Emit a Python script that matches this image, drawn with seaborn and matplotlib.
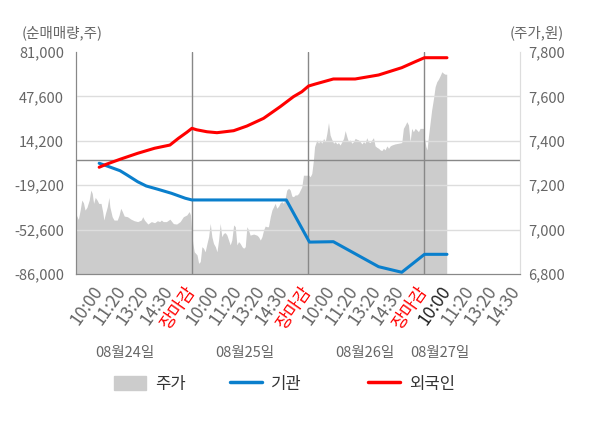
import seaborn as sns
import numpy as np
import pandas as pd
import matplotlib
matplotlib.use('Agg')
import matplotlib.pyplot as plt
from matplotlib.patches import Patch
from matplotlib.lines import Line2D
from matplotlib.transforms import blended_transform_factory

sns.set_style('white')
plt.rcParams['font.family'] = ['Noto Sans CJK KR', 'DejaVu Sans']

# x axis: 5 slots per trading day, day boundaries at 5, 10, 15
slot_labels = ['10:00', '11:20', '13:20', '14:30', '장마감']
day_labels = ['08월24일', '08월25일', '08월26일', '08월27일']
day_label_pos = [2.1, 7.3, 12.45, 15.7]

# 주가 (price, right axis) read per day
price_t_d1 = [0.0, 0.1, 0.18, 0.25, 0.32, 0.39, 0.47, 0.57, 0.64, 0.70, 0.76, 0.83, 0.91, 0.98,
              1.08, 1.15, 1.20, 1.27, 1.35, 1.42, 1.46, 1.56, 1.64, 1.78, 1.86, 1.93, 2.00, 2.08,
              2.22, 2.37, 2.51, 2.66, 2.81, 2.88, 2.95, 3.10, 3.25, 3.39, 3.51, 3.61, 3.68, 3.76,
              3.90, 4.05, 4.20, 4.34, 4.49, 4.63, 4.78, 4.88, 4.94]
price_v_d1 = [7069, 7046, 7088, 7133, 7121, 7088, 7100, 7133, 7178, 7163, 7118, 7145, 7133, 7118,
              7118, 7081, 7043, 7073, 7103, 7145, 7103, 7058, 7043, 7043, 7066, 7096, 7081, 7061,
              7058, 7047, 7040, 7036, 7043, 7058, 7043, 7025, 7036, 7031, 7040, 7036, 7043, 7036,
              7036, 7047, 7027, 7025, 7036, 7058, 7066, 7081, 7066]
price_t_d2 = [5.0, 5.04, 5.1, 5.22, 5.29, 5.36, 5.43, 5.5, 5.57, 5.65, 5.72, 5.79, 5.86, 5.93,
              6.01, 6.08, 6.15, 6.22, 6.29, 6.36, 6.44, 6.51, 6.58, 6.65, 6.72, 6.8, 6.87, 6.94,
              7.01, 7.08, 7.16, 7.23, 7.3, 7.37, 7.44, 7.51, 7.66, 7.8, 7.87, 7.95, 8.02, 8.09,
              8.16, 8.23, 8.3, 8.38, 8.45, 8.52, 8.59, 8.66, 8.74, 8.81, 8.88, 8.95, 9.02, 9.09,
              9.17, 9.24, 9.31, 9.38, 9.45, 9.53, 9.6, 9.67, 9.74, 9.81, 9.89, 9.96]
price_v_d2 = [6976, 6938, 6900, 6886, 6848, 6856, 6923, 6916, 6900, 6938, 6968, 7028, 6968, 6938,
              6923, 6900, 6953, 7028, 6968, 6983, 6986, 6975, 6953, 6931, 6953, 7021, 7013, 6931,
              6946, 6938, 6923, 6916, 6923, 7013, 6998, 6975, 6980, 6975, 6968, 6953, 6968, 6998,
              7016, 7013, 7013, 7058, 7088, 7103, 7118, 7096, 7106, 7121, 7126, 7118, 7141, 7178,
              7186, 7178, 7151, 7148, 7156, 7156, 7163, 7178, 7193, 7245, 7245, 7245]
price_t_d3 = [10.03, 10.1, 10.17, 10.24, 10.29, 10.34, 10.39, 10.46, 10.53, 10.6, 10.68, 10.75,
              10.82, 10.89, 10.96, 11.03, 11.11, 11.18, 11.25, 11.32, 11.39, 11.47, 11.54, 11.61,
              11.68, 11.75, 11.82, 11.9, 11.97, 12.04, 12.11, 12.18, 12.26, 12.33, 12.4, 12.47,
              12.54, 12.61, 12.69, 12.76, 12.83, 12.9, 12.97, 13.05, 13.12, 13.19, 13.26, 13.33,
              13.41, 13.48, 13.55, 13.62, 13.76, 13.91, 14.05, 14.12, 14.2, 14.27, 14.34, 14.41,
              14.48, 14.55, 14.63, 14.7, 14.77, 14.84, 14.99]
price_v_d3 = [7246, 7238, 7253, 7313, 7374, 7389, 7404, 7389, 7404, 7389, 7411, 7396,
              7434, 7482, 7426, 7407, 7389, 7396, 7386, 7392, 7381, 7396, 7411, 7446,
              7419, 7396, 7404, 7389, 7396, 7411, 7407, 7404, 7396, 7386, 7396, 7389,
              7414, 7396, 7392, 7404, 7414, 7377, 7371, 7366, 7359, 7356, 7366, 7359,
              7377, 7366, 7377, 7381, 7386, 7389, 7392, 7456, 7471, 7486, 7471, 7396,
              7456, 7441, 7456, 7449, 7441, 7456, 7456]
price_t_d4 = [15.03, 15.09, 15.14, 15.2, 15.27, 15.34, 15.42, 15.49, 15.56, 15.63, 15.7, 15.78,
              15.85, 15.92, 15.99]
price_v_d4 = [7411, 7374, 7359, 7419, 7479, 7539, 7591, 7644, 7666, 7677, 7692, 7711,
              7704, 7700, 7700]

# 기관 (institutions, left axis)
inst_t = [1.0, 1.3, 1.9, 2.2, 2.66, 3.03, 3.54, 4.12, 4.71, 5.0, 9.07, 10.07, 11.1,
          13.05, 14.05, 15.03, 16.0]
inst_v = [-2700, -4500, -8300, -11500, -16600, -19800, -22300, -25300, -29000, -30300,
          -30300, -62000, -61700, -80500, -84700, -71200, -71200]

# 외국인 (foreigners, left axis)
frgn_t = [1.0, 1.3, 1.9, 2.66, 3.39, 4.05, 4.42, 4.78, 5.0, 5.2, 5.65, 6.08, 6.8, 7.37,
          8.09, 8.81, 9.38, 9.74, 10.03, 10.32, 11.1, 12.04, 13.05, 14.05, 14.63, 15.03, 16.0]
frgn_v = [-5700, -3500, 300, 4800, 8600, 11000, 16100, 20600, 23600, 22500, 21000, 20300,
          21800, 25300, 31100, 39900, 47400, 51100, 55400, 56900, 60700, 60700, 63700, 69200,
          73700, 76700, 76700]

left_ticks = [-86000, -52600, -19200, 14200, 47600, 81000]
right_ticks = [6800, 7000, 7200, 7400, 7600, 7800]

price_t = price_t_d1 + price_t_d2 + price_t_d3 + price_t_d4
price_v = price_v_d1 + price_v_d2 + price_v_d3 + price_v_d4

lines = pd.concat([
    pd.DataFrame({'t': inst_t, 'v': inst_v, 'who': '기관'}),
    pd.DataFrame({'t': frgn_t, 'v': frgn_v, 'who': '외국인'}),
])
colors = {'기관': '#0a7fcc', '외국인': '#ff0000'}

fig = plt.figure(figsize=(6, 4.28), dpi=100)
ax = fig.add_axes([76/600, 1-274/428, 444/600, 222/428])
ax2 = ax.twinx()

# price area behind, lines and grid on top
ax.set_zorder(ax2.get_zorder() + 1)
ax.patch.set_visible(False)
ax2.set_facecolor('#f4f4f4')
ax2.fill_between(price_t, price_v, 6800, color='#cccccc', lw=0)
ax2.set_ylim(6800, 7800)
ax2.set_yticks(right_ticks)
ax2.set_yticklabels([f'{v:,}' for v in right_ticks])

ax.set_ylim(-86000, 81000)
ax.set_yticks(left_ticks)
ax.set_yticklabels([f'{v:,}' for v in left_ticks])
ax.set_xlim(0, 19.15)
for y in left_ticks[1:-1]:
    ax.axhline(y, color='#dddddd', lw=1, zorder=0)
ax.axhline(0, color='#888888', lw=1, zorder=1)
for x in [5, 10, 15]:
    ax.axvline(x, color='#888888', lw=1, zorder=1)

sns.lineplot(data=lines, x='t', y='v', hue='who', palette=colors, lw=2.2,
             legend=False, ax=ax, zorder=3)
ax.set_xlabel('')
ax.set_ylabel('')

# x ticks
pos = [5*d + s for d in range(4) for s in range(1, 6)][:19]
labs = [slot_labels[(p - 1) % 5] for p in pos]
ax.set_xticks(pos)
ax.set_xticklabels(labs, rotation=55, ha='right', va='center', rotation_mode='anchor',
                   fontsize=12.5, color='#666666')
for p, t in zip(pos, ax.get_xticklabels()):
    if t.get_text() == '장마감':
        t.set_color('#ff0000')
    if p == 16:
        t.set_color('#222222')
ax.set_xticks([0, 5, 10, 15], minor=True)
ax.tick_params(axis='x', which='major', length=0, pad=10)
ax.tick_params(axis='x', which='minor', length=5, color='#888888')
ax.tick_params(axis='y', length=0, pad=8.5, labelsize=10.5, labelcolor='#666666')
ax2.tick_params(axis='y', length=0, pad=6, labelsize=10.5, labelcolor='#666666')

for a in (ax, ax2):
    a.spines['top'].set_visible(False)
    a.spines['left'].set_color('#888888')
    a.spines['bottom'].set_color('#888888')
    a.spines['right'].set_color('#dddddd')

trans = blended_transform_factory(ax.transData, ax.transAxes)
for x, d in zip(day_label_pos, day_labels):
    ax.text(x, -0.356, d, transform=trans, ha='center', va='center',
            fontsize=10.5, color='#666666')

fig.text(22/600, 1-33/428, '(순매매량,주)', ha='left', va='center', fontsize=10.5, color='#666666')
fig.text(510/600, 1-33/428, '(주가,원)', ha='left', va='center', fontsize=10.5, color='#666666')

# legend entries placed one by one, as in the reference
handles = [Patch(color='#cccccc'),
           Line2D([], [], color=colors['기관'], lw=2.5),
           Line2D([], [], color=colors['외국인'], lw=2.5)]
names = ['주가', '기관', '외국인']
starts = [114, 230, 368]
for h, n, x0 in zip(handles, names, starts):
    leg = fig.legend([h], [n], loc='center left', bbox_to_anchor=(x0/600, 1-384/428),
                     frameon=False, fontsize=12, handlelength=1.9, handleheight=0.9,
                     handletextpad=0.55, borderpad=0, borderaxespad=0, labelcolor='#333333')

fig.savefig('out.png', dpi=100)
